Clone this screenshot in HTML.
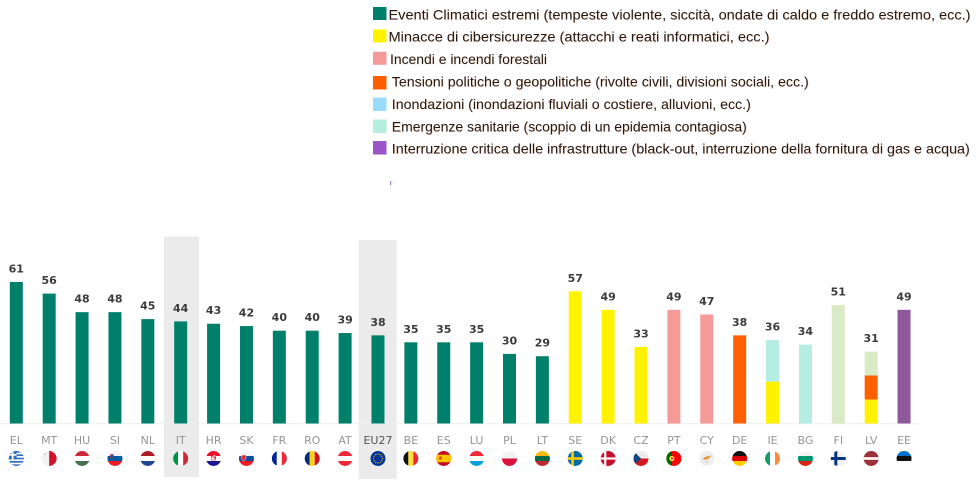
<!DOCTYPE html>
<html><head><meta charset="utf-8">
<style>
html,body{margin:0;padding:0;background:#fff;}
svg{display:block;}
.lg{font-family:"Liberation Sans",Arial,sans-serif;font-size:14px;fill:#241a14;}
.lgs{font-family:"Liberation Sans",Arial,sans-serif;font-size:14px;fill:#f2a070;opacity:.45;}
.v{font-family:"DejaVu Sans","Liberation Sans",sans-serif;font-size:11px;font-weight:bold;fill:#3c3c3c;text-anchor:middle;}
.c{font-family:"DejaVu Sans","Liberation Sans",sans-serif;font-size:11px;fill:#959595;text-anchor:middle;}
</style></head><body>
<svg width="978" height="481" viewBox="0 0 978 481" xmlns="http://www.w3.org/2000/svg">
<defs><clipPath id="fc"><circle cx="0" cy="0" r="7.5"/></clipPath></defs>

<!-- highlight boxes -->
<rect x="164" y="236.5" width="35" height="240.5" fill="#ebebeb"/>
<rect x="358.7" y="240" width="38" height="239" fill="#ebebeb"/>

<!-- baseline -->
<line x1="0" y1="423.8" x2="919" y2="423.8" stroke="#eeeeee" stroke-width="1"/>

<!-- legend -->
<g>
<rect x="373" y="7" width="13.5" height="13" fill="#00806b"/>
<rect x="373" y="29.4" width="13.5" height="13" fill="#fff200"/>
<rect x="373" y="51.8" width="13.5" height="13" fill="#f49a98"/>
<rect x="373" y="76" width="13.5" height="13.5" fill="#ff5f00"/>
<rect x="373" y="97.5" width="13.5" height="13.5" fill="#99dbfb"/>
<rect x="373" y="119.5" width="13.5" height="13.5" fill="#b4eedf"/>
<rect x="373" y="141" width="13.5" height="13.5" fill="#9b55c9"/>
<text class="lgs" x="389" y="19.8" textLength="582" lengthAdjust="spacingAndGlyphs">Eventi Climatici estremi (tempeste violente, siccità, ondate di caldo e freddo estremo, ecc.)</text>
<text class="lg" x="388.5" y="19.3" textLength="582" lengthAdjust="spacingAndGlyphs">Eventi Climatici estremi (tempeste violente, siccità, ondate di caldo e freddo estremo, ecc.)</text>
<text class="lgs" x="389" y="42.2" textLength="381" lengthAdjust="spacingAndGlyphs">Minacce di cibersicurezze (attacchi e reati informatici, ecc.)</text>
<text class="lg" x="388.5" y="41.7" textLength="381" lengthAdjust="spacingAndGlyphs">Minacce di cibersicurezze (attacchi e reati informatici, ecc.)</text>
<text class="lgs" x="390.5" y="64.6" textLength="157" lengthAdjust="spacingAndGlyphs">Incendi e incendi forestali</text>
<text class="lg" x="390" y="64.1" textLength="157" lengthAdjust="spacingAndGlyphs">Incendi e incendi forestali</text>
<text class="lgs" x="392.3" y="87" textLength="417" lengthAdjust="spacingAndGlyphs">Tensioni politiche o geopolitiche (rivolte civili, divisioni sociali, ecc.)</text>
<text class="lg" x="391.8" y="86.5" textLength="417" lengthAdjust="spacingAndGlyphs">Tensioni politiche o geopolitiche (rivolte civili, divisioni sociali, ecc.)</text>
<text class="lgs" x="392.3" y="109.4" textLength="359" lengthAdjust="spacingAndGlyphs">Inondazioni (inondazioni fluviali o costiere, alluvioni, ecc.)</text>
<text class="lg" x="391.8" y="108.9" textLength="359" lengthAdjust="spacingAndGlyphs">Inondazioni (inondazioni fluviali o costiere, alluvioni, ecc.)</text>
<text class="lgs" x="392.3" y="131.8" textLength="355" lengthAdjust="spacingAndGlyphs">Emergenze sanitarie (scoppio di un epidemia contagiosa)</text>
<text class="lg" x="391.8" y="131.3" textLength="355" lengthAdjust="spacingAndGlyphs">Emergenze sanitarie (scoppio di un epidemia contagiosa)</text>
<text class="lgs" x="392.3" y="154.2" textLength="578" lengthAdjust="spacingAndGlyphs">Interruzione critica delle infrastrutture (black-out, interruzione della fornitura di gas e acqua)</text>
<text class="lg" x="391.8" y="153.7" textLength="578" lengthAdjust="spacingAndGlyphs">Interruzione critica delle infrastrutture (black-out, interruzione della fornitura di gas e acqua)</text>
<rect x="390" y="181" width="1.2" height="4" fill="#a383c8"/>
</g>

<!-- bars -->
<g>
<rect x="9.8" y="281.98" width="13" height="141.52" fill="#00806b"/>
<rect x="42.68" y="293.58" width="13" height="129.92" fill="#00806b"/>
<rect x="75.56" y="312.14" width="13" height="111.36" fill="#00806b"/>
<rect x="108.44" y="312.14" width="13" height="111.36" fill="#00806b"/>
<rect x="141.32" y="319.1" width="13" height="104.4" fill="#00806b"/>
<rect x="174.2" y="321.42" width="13" height="102.08" fill="#00806b"/>
<rect x="207.08" y="323.74" width="13" height="99.76" fill="#00806b"/>
<rect x="239.96" y="326.06" width="13" height="97.44" fill="#00806b"/>
<rect x="272.84" y="330.7" width="13" height="92.8" fill="#00806b"/>
<rect x="305.72" y="330.7" width="13" height="92.8" fill="#00806b"/>
<rect x="338.6" y="333.02" width="13" height="90.48" fill="#00806b"/>
<rect x="371.48" y="335.34" width="13" height="88.16" fill="#00806b"/>
<rect x="404.36" y="342.3" width="13" height="81.2" fill="#00806b"/>
<rect x="437.24" y="342.3" width="13" height="81.2" fill="#00806b"/>
<rect x="470.12" y="342.3" width="13" height="81.2" fill="#00806b"/>
<rect x="503" y="353.9" width="13" height="69.6" fill="#00806b"/>
<rect x="535.88" y="356.22" width="13" height="67.28" fill="#00806b"/>
<rect x="568.76" y="291.26" width="13" height="132.24" fill="#fff200"/>
<rect x="601.64" y="309.82" width="13" height="113.68" fill="#fff200"/>
<rect x="634.52" y="346.94" width="13" height="76.56" fill="#fff200"/>
<rect x="667.4" y="309.82" width="13" height="113.68" fill="#f49a98"/>
<rect x="700.28" y="314.46" width="13" height="109.04" fill="#f49a98"/>
<rect x="733.16" y="335.34" width="13" height="88.16" fill="#ff6000"/>
<rect x="766.04" y="339.98" width="13" height="41.72" fill="#b4eee2"/>
<rect x="766.04" y="381.7" width="13" height="41.8" fill="#fff200"/>
<rect x="798.92" y="344.62" width="13" height="78.88" fill="#b4eee2"/>
<rect x="831.8" y="305.18" width="13" height="118.32" fill="#d9eac6"/>
<rect x="864.68" y="351.58" width="13" height="23.92" fill="#d9eac6"/>
<rect x="864.68" y="375.5" width="13" height="24" fill="#ff6000"/>
<rect x="864.68" y="399.5" width="13" height="24" fill="#fff200"/>
<rect x="897.56" y="309.82" width="13" height="113.68" fill="#8e5a9c"/>
</g>

<!-- values -->
<g>
<text class="v" x="16.3" y="272.5">61</text>
<text class="v" x="49.18" y="284.1">56</text>
<text class="v" x="82.06" y="302.6">48</text>
<text class="v" x="114.94" y="302.6">48</text>
<text class="v" x="147.82" y="309.6">45</text>
<text class="v" x="180.7" y="311.9">44</text>
<text class="v" x="213.58" y="314.2">43</text>
<text class="v" x="246.46" y="316.6">42</text>
<text class="v" x="279.34" y="321.2">40</text>
<text class="v" x="312.22" y="321.2">40</text>
<text class="v" x="345.1" y="323.5">39</text>
<text class="v" x="377.98" y="325.8">38</text>
<text class="v" x="410.86" y="332.8">35</text>
<text class="v" x="443.74" y="332.8">35</text>
<text class="v" x="476.62" y="332.8">35</text>
<text class="v" x="509.5" y="344.4">30</text>
<text class="v" x="542.38" y="346.7">29</text>
<text class="v" x="575.26" y="281.8">57</text>
<text class="v" x="608.14" y="300.3">49</text>
<text class="v" x="641.02" y="337.4">33</text>
<text class="v" x="673.9" y="300.3">49</text>
<text class="v" x="706.78" y="305">47</text>
<text class="v" x="739.66" y="325.8">38</text>
<text class="v" x="772.54" y="330.5">36</text>
<text class="v" x="805.42" y="335.1">34</text>
<text class="v" x="838.3" y="295.7">51</text>
<text class="v" x="871.18" y="342.1">31</text>
<text class="v" x="904.06" y="300.3">49</text>
</g>

<!-- country labels -->
<g>
<text class="c" x="16.3" y="444">EL</text>
<text class="c" x="49.18" y="444">MT</text>
<text class="c" x="82.06" y="444">HU</text>
<text class="c" x="114.94" y="444">SI</text>
<text class="c" x="147.82" y="444">NL</text>
<text class="c" x="180.7" y="444">IT</text>
<text class="c" x="213.58" y="444">HR</text>
<text class="c" x="246.46" y="444">SK</text>
<text class="c" x="279.34" y="444">FR</text>
<text class="c" x="312.22" y="444">RO</text>
<text class="c" x="345.1" y="444">AT</text>
<text class="c" x="377.98" y="444" style="fill:#555">EU27</text>
<text class="c" x="410.86" y="444">BE</text>
<text class="c" x="443.74" y="444">ES</text>
<text class="c" x="476.62" y="444">LU</text>
<text class="c" x="509.5" y="444">PL</text>
<text class="c" x="542.38" y="444">LT</text>
<text class="c" x="575.26" y="444">SE</text>
<text class="c" x="608.14" y="444">DK</text>
<text class="c" x="641.02" y="444">CZ</text>
<text class="c" x="673.9" y="444">PT</text>
<text class="c" x="706.78" y="444">CY</text>
<text class="c" x="739.66" y="444">DE</text>
<text class="c" x="772.54" y="444">IE</text>
<text class="c" x="805.42" y="444">BG</text>
<text class="c" x="838.3" y="444">FI</text>
<text class="c" x="871.18" y="444">LV</text>
<text class="c" x="904.06" y="444">EE</text>
</g>

<!-- flags -->
<g transform="translate(16.3,458.5)"><g clip-path="url(#fc)">
<rect x="-8" y="-8" width="16" height="16" fill="#2f6fbf"/>
<rect x="-8" y="-5.83" width="16" height="1.67" fill="#fff"/>
<rect x="-8" y="-2.5" width="16" height="1.67" fill="#fff"/>
<rect x="-8" y="0.83" width="16" height="1.67" fill="#fff"/>
<rect x="-8" y="4.17" width="16" height="1.67" fill="#fff"/>
<rect x="-8" y="-8" width="8.3" height="8.8" fill="#2f6fbf"/>
<rect x="-8" y="-4.5" width="8.3" height="1.7" fill="#fff"/>
<rect x="-4.5" y="-8" width="1.7" height="8.8" fill="#fff"/>
</g></g>
<g transform="translate(49.18,458.5)"><g clip-path="url(#fc)">
<rect x="-8" y="-8" width="8" height="16" fill="#f2f2f2"/>
<rect x="0" y="-8" width="8" height="16" fill="#cf142b"/>
<rect x="-5" y="-5" width="1.5" height="1.5" fill="#bbb"/>
</g></g>
<g transform="translate(82.06,458.5)"><g clip-path="url(#fc)">
<rect x="-8" y="-8" width="16" height="5.5" fill="#ce2939"/>
<rect x="-8" y="-2.5" width="16" height="5" fill="#fff"/>
<rect x="-8" y="2.5" width="16" height="5.5" fill="#477050"/>
</g></g>
<g transform="translate(114.94,458.5)"><g clip-path="url(#fc)">
<rect x="-8" y="-8" width="16" height="5.5" fill="#f4f4f4"/>
<rect x="-8" y="-2.5" width="16" height="5" fill="#005da4"/>
<rect x="-8" y="2.5" width="16" height="5.5" fill="#ed1c24"/>
<rect x="-4.5" y="-4" width="3" height="3.5" fill="#005da4" stroke="#ed1c24" stroke-width=".5"/>
</g></g>
<g transform="translate(147.82,458.5)"><g clip-path="url(#fc)">
<rect x="-8" y="-8" width="16" height="5.5" fill="#ae1c28"/>
<rect x="-8" y="-2.5" width="16" height="5" fill="#fff"/>
<rect x="-8" y="2.5" width="16" height="5.5" fill="#21468b"/>
</g></g>
<g transform="translate(180.7,458.5)"><g clip-path="url(#fc)">
<rect x="-8" y="-8" width="5.5" height="16" fill="#009246"/>
<rect x="-2.5" y="-8" width="5" height="16" fill="#fff"/>
<rect x="2.5" y="-8" width="5.5" height="16" fill="#ce2b37"/>
</g></g>
<g transform="translate(213.58,458.5)"><g clip-path="url(#fc)">
<rect x="-8" y="-8" width="16" height="5.5" fill="#e8102a"/>
<rect x="-8" y="-2.5" width="16" height="5" fill="#fff"/>
<rect x="-8" y="2.5" width="16" height="5.5" fill="#171796"/>
<rect x="-2" y="-3.5" width="4" height="5" fill="#fff" stroke="#e8102a" stroke-width=".6"/>
<rect x="-2" y="-3.5" width="2" height="1.7" fill="#e8102a"/>
<rect x="0" y="-1.8" width="2" height="1.7" fill="#e8102a"/>
</g></g>
<g transform="translate(246.46,458.5)"><g clip-path="url(#fc)">
<rect x="-8" y="-8" width="16" height="5.5" fill="#f4f4f4"/>
<rect x="-8" y="-2.5" width="16" height="5" fill="#0b4ea2"/>
<rect x="-8" y="2.5" width="16" height="5.5" fill="#ee1c25"/>
<path d="M-4.8,-3.5 h4.3 v3 a2.15,2.5 0 0 1 -4.3,0 z" fill="#ee1c25" stroke="#fff" stroke-width=".5"/>
</g></g>
<g transform="translate(279.34,458.5)"><g clip-path="url(#fc)">
<rect x="-8" y="-8" width="5.5" height="16" fill="#002395"/>
<rect x="-2.5" y="-8" width="5" height="16" fill="#fff"/>
<rect x="2.5" y="-8" width="5.5" height="16" fill="#ed2939"/>
</g></g>
<g transform="translate(312.22,458.5)"><g clip-path="url(#fc)">
<rect x="-8" y="-8" width="5.5" height="16" fill="#002b7f"/>
<rect x="-2.5" y="-8" width="5" height="16" fill="#fcd116"/>
<rect x="2.5" y="-8" width="5.5" height="16" fill="#ce1126"/>
</g></g>
<g transform="translate(345.1,458.5)"><g clip-path="url(#fc)">
<rect x="-8" y="-8" width="16" height="5.5" fill="#ed2939"/>
<rect x="-8" y="-2.5" width="16" height="5" fill="#fff"/>
<rect x="-8" y="2.5" width="16" height="5.5" fill="#ed2939"/>
</g></g>
<g transform="translate(377.98,458.5)"><g clip-path="url(#fc)">
<rect x="-8" y="-8" width="16" height="16" fill="#003399"/>
<g fill="#ffcc00">
<circle cx="0" cy="-4.5" r=".6"/><circle cx="2.25" cy="-3.9" r=".6"/><circle cx="3.9" cy="-2.25" r=".6"/>
<circle cx="4.5" cy="0" r=".6"/><circle cx="3.9" cy="2.25" r=".6"/><circle cx="2.25" cy="3.9" r=".6"/>
<circle cx="0" cy="4.5" r=".6"/><circle cx="-2.25" cy="3.9" r=".6"/><circle cx="-3.9" cy="2.25" r=".6"/>
<circle cx="-4.5" cy="0" r=".6"/><circle cx="-3.9" cy="-2.25" r=".6"/><circle cx="-2.25" cy="-3.9" r=".6"/>
</g>
</g></g>
<g transform="translate(410.86,458.5)"><g clip-path="url(#fc)">
<rect x="-8" y="-8" width="5.5" height="16" fill="#111"/>
<rect x="-2.5" y="-8" width="5" height="16" fill="#fae042"/>
<rect x="2.5" y="-8" width="5.5" height="16" fill="#ed2939"/>
</g></g>
<g transform="translate(443.74,458.5)"><g clip-path="url(#fc)">
<rect x="-8" y="-8" width="16" height="16" fill="#c60b1e"/>
<rect x="-8" y="-3.75" width="16" height="7.5" fill="#ffc400"/>
<rect x="-4.5" y="-2" width="2.5" height="3" fill="#c60b1e" opacity=".7"/>
</g></g>
<g transform="translate(476.62,458.5)"><g clip-path="url(#fc)">
<rect x="-8" y="-8" width="16" height="5.5" fill="#ed2939"/>
<rect x="-8" y="-2.5" width="16" height="5" fill="#fff"/>
<rect x="-8" y="2.5" width="16" height="5.5" fill="#00a1de"/>
</g></g>
<g transform="translate(509.5,458.5)"><g clip-path="url(#fc)">
<rect x="-8" y="-8" width="16" height="8" fill="#f2f2f2"/>
<rect x="-8" y="0" width="16" height="8" fill="#dc143c"/>
</g></g>
<g transform="translate(542.38,458.5)"><g clip-path="url(#fc)">
<rect x="-8" y="-8" width="16" height="5.5" fill="#fdb913"/>
<rect x="-8" y="-2.5" width="16" height="5" fill="#006a44"/>
<rect x="-8" y="2.5" width="16" height="5.5" fill="#c1272d"/>
</g></g>
<g transform="translate(575.26,458.5)"><g clip-path="url(#fc)">
<rect x="-8" y="-8" width="16" height="16" fill="#006aa7"/>
<rect x="-4" y="-8" width="2.6" height="16" fill="#fecc00"/>
<rect x="-8" y="-1.3" width="16" height="2.6" fill="#fecc00"/>
</g></g>
<g transform="translate(608.14,458.5)"><g clip-path="url(#fc)">
<rect x="-8" y="-8" width="16" height="16" fill="#c8102e"/>
<rect x="-4" y="-8" width="2.2" height="16" fill="#fff"/>
<rect x="-8" y="-1.1" width="16" height="2.2" fill="#fff"/>
</g></g>
<g transform="translate(641.02,458.5)"><g clip-path="url(#fc)">
<rect x="-8" y="-8" width="16" height="8" fill="#ededed"/>
<rect x="-8" y="0" width="16" height="8" fill="#d7141a"/>
<path d="M-8,-8 L0,0 L-8,8 z" fill="#11457e"/>
</g></g>
<g transform="translate(673.9,458.5)"><g clip-path="url(#fc)">
<rect x="-8" y="-8" width="16" height="16" fill="#ff0000"/>
<rect x="-8" y="-8" width="6" height="16" fill="#006600"/>
<circle cx="-2" cy="0" r="2.6" fill="#ffdd00"/>
<circle cx="-2" cy="0" r="1.4" fill="#ff0000" stroke="#fff" stroke-width=".5"/>
</g></g>
<g transform="translate(706.78,458.5)"><g clip-path="url(#fc)">
<rect x="-8" y="-8" width="16" height="16" fill="#eeeeee"/>
<path d="M-4,0 L-1,-2 L3,-2.5 L5,-3.5 L3,-1 L1,1 L-3,1.2 z" fill="#e39a3a"/>
<path d="M-2,3 L0,4 L2,3" stroke="#b6c79a" stroke-width=".6" fill="none"/>
</g></g>
<g transform="translate(739.66,458.5)"><g clip-path="url(#fc)">
<rect x="-8" y="-8" width="16" height="5.5" fill="#111"/>
<rect x="-8" y="-2.5" width="16" height="5" fill="#dd0000"/>
<rect x="-8" y="2.5" width="16" height="5.5" fill="#ffce00"/>
</g></g>
<g transform="translate(772.54,458.5)"><g clip-path="url(#fc)">
<rect x="-8" y="-8" width="5.5" height="16" fill="#169b62"/>
<rect x="-2.5" y="-8" width="5" height="16" fill="#fff"/>
<rect x="2.5" y="-8" width="5.5" height="16" fill="#ff883e"/>
</g></g>
<g transform="translate(805.42,458.5)"><g clip-path="url(#fc)">
<rect x="-8" y="-8" width="16" height="5.5" fill="#f2f2f2"/>
<rect x="-8" y="-2.5" width="16" height="5" fill="#00966e"/>
<rect x="-8" y="2.5" width="16" height="5.5" fill="#d62612"/>
</g></g>
<g transform="translate(838.3,458.5)"><g clip-path="url(#fc)">
<rect x="-8" y="-8" width="16" height="16" fill="#f2f2f2"/>
<rect x="-4" y="-8" width="3" height="16" fill="#003580"/>
<rect x="-8" y="-1.5" width="16" height="3" fill="#003580"/>
</g></g>
<g transform="translate(871.18,458.5)"><g clip-path="url(#fc)">
<rect x="-8" y="-8" width="16" height="16" fill="#9e3039"/>
<rect x="-8" y="-1.3" width="16" height="2.6" fill="#fff"/>
</g></g>
<g transform="translate(904.06,458.5)"><g clip-path="url(#fc)">
<rect x="-8" y="-8" width="16" height="5.5" fill="#0072ce"/>
<rect x="-8" y="-2.5" width="16" height="5" fill="#111"/>
<rect x="-8" y="2.5" width="16" height="5.5" fill="#fff"/>
</g></g>
</svg>
</body></html>
